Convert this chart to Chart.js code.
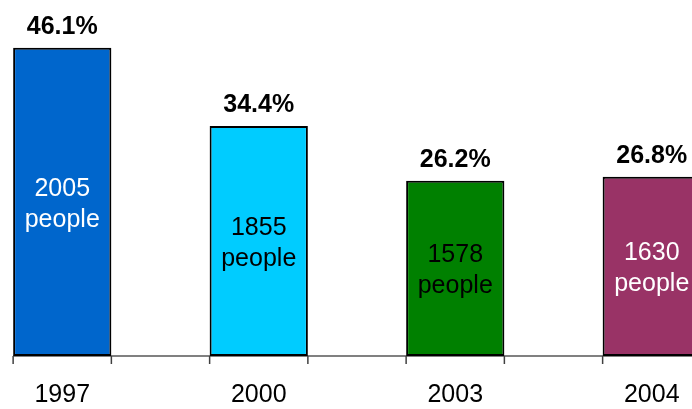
<!DOCTYPE html>
<html>
<head>
<meta charset="utf-8">
<script src="https://cdn.jsdelivr.net/npm/chart.js@4.4.0/dist/chart.umd.min.js"></script>
<style>
  html, body { margin: 0; padding: 0; background: #fff; }
  body { width: 692px; height: 409px; overflow: hidden; position: relative; }
  #wrap { position: absolute; left: -36px; top: 0; width: 786px; height: 409px; }
</style>
</head>
<body>
<div id="wrap"><canvas id="chartCanva"></canvas></div>
<script>
    let years = ['1997', '2000', '2003', '2004']
    let percents = [46.1, 34.4, 26.2, 26.8]
    let people = [2005, 1855, 1578, 1630]

    let barColors = ['#0066CC', '#00CCFF', '#008000', '#993366']
    let innerTextColors = ['#FFFFFF', '#000000', '#000000', '#FFFFFF']
    let fontFamily = "'Liberation Sans', Arial, sans-serif"

    // axis line + tick marks at bar edges (Excel style)
    const axisPlugin = {
        id: 'axisPlugin',
        beforeDatasetsDraw(chart) {
            let ctx = chart.ctx
            let meta = chart.getDatasetMeta(0)
            let y = chart.scales.y.getPixelForValue(0)
            let first = meta.data[0]
            let half = first.width / 2
            ctx.save()
            ctx.strokeStyle = '#808080'
            ctx.lineWidth = 2
            ctx.beginPath()
            ctx.moveTo(first.x - half, y)
            ctx.lineTo(chart.width, y)
            ctx.stroke()
            ctx.strokeStyle = '#404040'
            ctx.lineWidth = 1.5
            meta.data.forEach(bar => {
                [bar.x - half, bar.x + half].forEach(x => {
                    ctx.beginPath()
                    ctx.moveTo(x, y)
                    ctx.lineTo(x, y + 8)
                    ctx.stroke()
                })
            })
            ctx.restore()
        }
    }

    const labelPlugin = {
        id: 'labelPlugin',
        afterDatasetsDraw(chart) {
            let ctx = chart.ctx
            let meta = chart.getDatasetMeta(0)
            ctx.save()
            ctx.textAlign = 'center'
            meta.data.forEach((bar, i) => {
                // percentage above the bar
                ctx.font = 'bold 25px ' + fontFamily
                ctx.fillStyle = '#000'
                ctx.textBaseline = 'alphabetic'
                ctx.fillText(percents[i].toFixed(1) + '%', bar.x, bar.y - 14)

                // people count inside the bar
                let mid = (bar.y + bar.base) / 2
                ctx.font = '25px ' + fontFamily
                ctx.fillStyle = innerTextColors[i]
                ctx.textBaseline = 'middle'
                ctx.fillText(String(people[i]), bar.x, mid - 13)
                ctx.fillText('people', bar.x, mid + 18)
            })
            ctx.restore()
        }
    }

    const data = {
        labels: years,
        datasets: [{
            data: percents,
            backgroundColor: barColors,
            borderColor: '#000000',
            borderWidth: 2,
            borderSkipped: false,
            categoryPercentage: 0.5,
            barPercentage: 1.0
        }]
    }

    const config = {
        type: 'bar',
        data: data,
        options: {
            responsive: true,
            maintainAspectRatio: false,
            animation: false,
            devicePixelRatio: 1,
            layout: { padding: 0 },
            plugins: {
                legend: { display: false },
                tooltip: { enabled: false }
            },
            scales: {
                x: {
                    grid: { display: false, drawTicks: false },
                    border: { display: false },
                    afterFit: (scale) => { scale.height = 53 },
                    ticks: {
                        color: '#000',
                        padding: 24,
                        font: { family: fontFamily, size: 25, lineHeight: 1.2 }
                    }
                },
                y: {
                    display: false,
                    min: 0,
                    max: 53.25
                }
            }
        },
        plugins: [axisPlugin, labelPlugin]
    }

    new Chart(document.getElementById('chartCanva'), config)
</script>
</body>
</html>
